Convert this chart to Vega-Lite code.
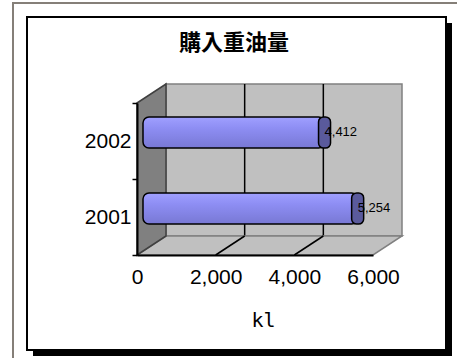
{
  "$schema": "https://vega.github.io/schema/vega-lite/v6.json",
  "width": 236,
  "height": 152,
  "autosize": {"type": "none"},
  "padding": {"left": 137, "top": 103, "right": 84, "bottom": 103},
  "background": "white",
  "title": {
    "text": "購入重油量",
    "font": "Noto Sans CJK JP",
    "fontSize": 22,
    "fontWeight": "bold",
    "color": "black",
    "anchor": "middle",
    "frame": "group",
    "dx": -21,
    "offset": -70,
    "baseline": "alphabetic",
    "zindex": 1
  },
  "config": {"view": {"stroke": null}},
  "datasets": {
    "oil": [
      {"year": "2001", "kl": 5254},
      {"year": "2002", "kl": 4412}
    ],
    "grid": [{"kl": 2000}, {"kl": 4000}],
    "one": [{"item": "frame"}]
  },
  "encoding": {
    "x": {
      "field": "kl",
      "type": "quantitative",
      "scale": {"domain": [0, 6000], "nice": false, "zero": true},
      "axis": {
        "values": [0, 2000, 4000, 6000],
        "format": ",.0f",
        "title": "kl",
        "grid": false,
        "ticks": false,
        "domainColor": "black",
        "domainWidth": 2,
        "labelFont": "Liberation Sans",
        "labelFontSize": 21,
        "labelColor": "black",
        "labelPadding": 11,
        "labelFlush": false,
        "labelOverlap": false,
        "titleFont": "DejaVu Sans Mono",
        "titleFontSize": 20,
        "titleFontWeight": "normal",
        "titleColor": "black",
        "titleX": 126,
        "titleY": 55,
        "titleBaseline": "top",
        "titleAnchor": "middle",
        "zindex": 1
      }
    }
  },
  "layer": [
    {
      "data": {"name": "one"},
      "mark": {"type": "rect", "filled": false, "stroke": "#857f78", "strokeWidth": 2, "xOffset": -124, "x2Offset": 120, "yOffset": -100, "y2Offset": 120},
      "encoding": {"x": {"value": 0}, "x2": {"value": "width"}, "y": {"value": 0}, "y2": {"value": "height"}}
    },
    {
      "data": {"name": "one"},
      "mark": {"type": "rect", "fill": "black", "xOffset": -104, "x2Offset": 79, "yOffset": -80, "y2Offset": 101},
      "encoding": {"x": {"value": 0}, "x2": {"value": "width"}, "y": {"value": 0}, "y2": {"value": "height"}}
    },
    {
      "data": {"name": "one"},
      "mark": {"type": "rect", "fill": "white", "stroke": "black", "strokeWidth": 2, "xOffset": -110, "x2Offset": 73, "yOffset": -86, "y2Offset": 95},
      "encoding": {"x": {"value": 0}, "x2": {"value": "width"}, "y": {"value": 0}, "y2": {"value": "height"}}
    },
    {
      "data": {"name": "one"},
      "mark": {"type": "rect", "fill": "#c0c0c0", "stroke": "#808080", "strokeWidth": 1.5, "xOffset": 29, "x2Offset": 29, "yOffset": -19, "y2Offset": -19},
      "encoding": {"x": {"value": 0}, "x2": {"value": "width"}, "y": {"value": 0}, "y2": {"value": "height"}}
    },
    {
      "data": {"name": "grid"},
      "mark": {"type": "rule", "color": "black", "strokeWidth": 1.5, "xOffset": 29, "yOffset": -19, "y2Offset": -19},
      "encoding": {
        "y": {"value": 0},
        "y2": {"value": "height"}
      }
    },
    {
      "data": {"name": "one"},
      "mark": {"type": "point", "shape": "M0,0L236,0L265,-19L29,-19Z", "size": 4, "filled": true, "fill": "#c0c0c0", "stroke": "#808080", "strokeWidth": 1.5, "opacity": 1},
      "encoding": {"x": {"value": 0}, "y": {"value": "height"}}
    },
    {
      "data": {"name": "grid"},
      "mark": {"type": "rule", "color": "black", "strokeWidth": 1.5, "x2Offset": 29, "y2Offset": -19},
      "encoding": {
        "x2": {"field": "kl"},
        "y": {"value": "height"},
        "y2": {"value": "height"}
      }
    },
    {
      "data": {"name": "one"},
      "mark": {"type": "point", "shape": "M0,0L29,-19L29,133L0,152Z", "size": 4, "filled": true, "fill": "#808080", "stroke": "#404040", "strokeWidth": 1.5, "opacity": 1},
      "encoding": {"x": {"value": 0}, "y": {"value": 0}}
    },
    {
      "data": {"name": "oil"},
      "mark": {
        "type": "bar",
        "height": {"band": 0.41},
        "yOffset": -8.5,
        "xOffset": 14,
        "x2Offset": 6,
        "cornerRadius": 6,
        "stroke": "black",
        "strokeWidth": 1.5,
        "fill": {
          "gradient": "linear",
          "x1": 0, "y1": 0, "x2": 0, "y2": 1,
          "stops": [
            {"offset": 0, "color": "#a0a0ff"},
            {"offset": 0.35, "color": "#8e8ef4"},
            {"offset": 1, "color": "#7878d4"}
          ]
        }
      },
      "encoding": {
        "x2": {"datum": 0},
        "y": {
          "field": "year",
          "type": "nominal",
          "scale": {"domain": ["2002", "2001"], "paddingInner": 0, "paddingOuter": 0},
          "axis": {
            "title": null,
            "tickBand": "extent",
            "tickSize": 5,
            "tickColor": "black",
            "tickWidth": 1.5,
            "domainColor": "black",
            "domainWidth": 2,
            "labelFont": "Liberation Sans",
            "labelFontSize": 21,
            "labelColor": "black",
            "labelPadding": 1,
            "grid": false,
            "zindex": 1
          }
        }
      }
    },
    {
      "data": {"name": "oil"},
      "mark": {"type": "rect", "height": {"band": 0.41}, "yOffset": -8.5, "xOffset": 8, "x2Offset": 20, "cornerRadius": 5, "fill": "#5a5a9c", "stroke": "black", "strokeWidth": 1.5},
      "encoding": {
        "x2": {"field": "kl"},
        "y": {"field": "year", "type": "nominal"}
      }
    },
    {
      "data": {"name": "oil"},
      "mark": {"type": "text", "align": "left", "baseline": "middle", "dx": 14, "dy": -9, "font": "Liberation Sans", "fontSize": 13, "color": "black"},
      "encoding": {
        "y": {"field": "year", "type": "nominal"},
        "text": {"field": "kl", "type": "quantitative", "format": ","}
      }
    }
  ]
}
